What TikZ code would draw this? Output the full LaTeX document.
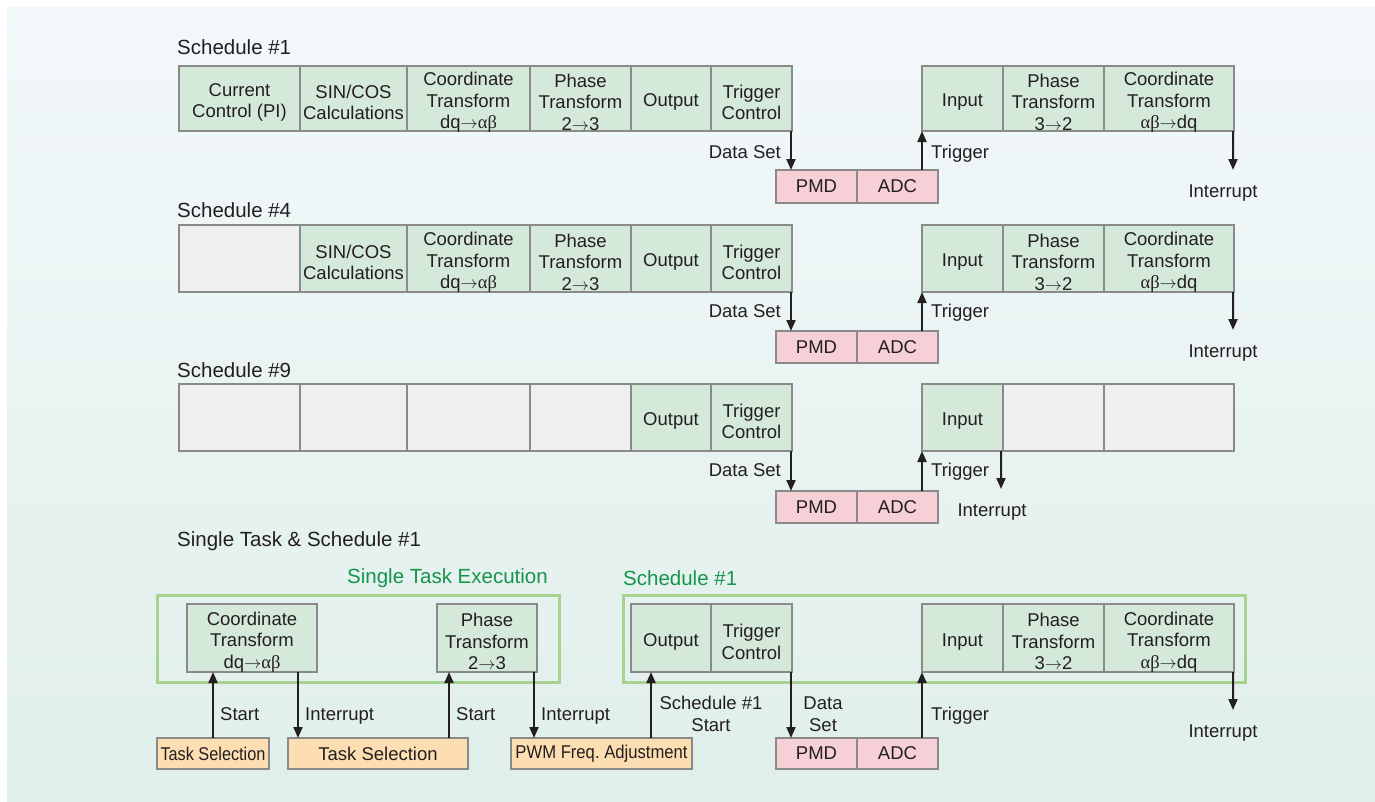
\documentclass[tikz,border=0pt]{standalone}
\usepackage{fontspec}
\usepackage{graphicx}
\usetikzlibrary{arrows.meta}
\setmainfont{Liberation Sans}
\newfontfamily\grk{Liberation Serif}
\newcommand{\bodyf}{\fontsize{18.5bp}{21.5bp}\selectfont}
\newcommand{\headf}{\fontsize{20.5bp}{24bp}\selectfont}
\newcommand{\arw}{$\rightarrow$}
\definecolor{bgtop}{HTML}{F3F8FB}
\definecolor{bgbot}{HTML}{E0EFEA}
\definecolor{gfill}{HTML}{D5E9DA}
\definecolor{efill}{HTML}{EFEFEF}
\definecolor{pfill}{HTML}{F7CFD6}
\definecolor{ofill}{HTML}{FDDDB2}
\definecolor{boxline}{HTML}{8A8A8A}
\definecolor{framec}{HTML}{A6D48E}
\definecolor{gtext}{HTML}{17944A}
\definecolor{txt}{HTML}{231F20}
\tikzset{
  box/.style={draw=boxline, line width=1.1bp, outer sep=0pt, inner sep=1bp,
    align=center, font=\bodyf, text=txt, anchor=north west},
  intext/.style={font=\bodyf, align=center, text=txt, inner sep=0pt, yshift=-3.8bp},
  gbox/.style={box, fill=gfill, label={[intext]center:{#1}}},
  ebox/.style={box, fill=efill},
  pbox/.style={box, fill=pfill},
  obox/.style={box, fill=ofill},
  frameb/.style={draw=framec, line width=3bp, outer sep=0pt, inner sep=0pt, anchor=north west},
  lbl/.style={font=\bodyf, inner sep=1bp, align=center, text=txt},
  lbl1/.style={lbl, text height=13.3bp, text depth=0pt},
  head/.style={font=\headf, inner sep=0pt, anchor=west, text=txt},
  ghead/.style={head, text=gtext},
  arr/.style={line width=2bp, draw=txt, -{Triangle[length=11bp,width=9bp]}},
}
\begin{document}
\begin{tikzpicture}[x=1bp,y=-1bp]
\useasboundingbox (0,0) rectangle (1375,801);
\fill[top color=bgtop, bottom color=bgbot] (7,8) rectangle (1375,801);

% ---------- Schedule #1 ----------
\node[head] (h1) at (177,47) {Schedule \#1};
\node[gbox={Current\\Control (PI)}, minimum width=121bp, minimum height=65bp] (r1a) at (179,66) {};
\node[gbox={SIN/COS\\Calculations}, minimum width=107bp, minimum height=65bp] (r1b) at (300,66) {};
\node[gbox={Coordinate\\Transform\\dq\arw{\grk αβ}}, minimum width=123bp, minimum height=65bp] (r1c) at (407,66) {};
\node[gbox={Phase\\Transform\\2\arw3}, minimum width=101bp, minimum height=65bp] (r1d) at (530,66) {};
\node[gbox={Output}, minimum width=80bp, minimum height=65bp] (r1e) at (631,66) {};
\node[gbox={Trigger\\Control}, minimum width=81bp, minimum height=65bp] (r1f) at (711,66) {};
\node[gbox={Input}, minimum width=81bp, minimum height=65bp] (r1g) at (922,66) {};
\node[gbox={Phase\\Transform\\3\arw2}, minimum width=101bp, minimum height=65bp] (r1h) at (1003,66) {};
\node[gbox={Coordinate\\Transform\\{\grk αβ}\arw dq}, minimum width=130bp, minimum height=65bp] (r1i) at (1104,66) {};
\node[pbox, minimum width=81bp, minimum height=33bp] (r1p) at (776,170) {PMD};
\node[pbox, minimum width=81bp, minimum height=33bp] (r1q) at (857,170) {ADC};
\node[lbl1, anchor=east] (r1ds) at (782,152) {Data Set};
\node[lbl1, anchor=west] (r1tr) at (930,152) {Trigger};
\node[lbl1] (r1int) at (1223,191) {Interrupt};
\coordinate (r1end) at (1233,170);
\draw[arr] ([xshift=-1bp]r1f.south east) -- ([xshift=-1bp]r1f.south east |- r1p.north);
\draw[arr] (r1g.south west |- r1q.north) -- (r1g.south west);
\draw[arr] ([xshift=-1bp]r1i.south east) -- (r1end);

% ---------- Schedule #4 ----------
\node[head] (h4) at (177,210) {Schedule \#4};
\node[ebox, minimum width=121bp, minimum height=67bp] (r2a) at (179,225) {};
\node[gbox={SIN/COS\\Calculations}, minimum width=107bp, minimum height=67bp] (r2b) at (300,225) {};
\node[gbox={Coordinate\\Transform\\dq\arw{\grk αβ}}, minimum width=123bp, minimum height=67bp] (r2c) at (407,225) {};
\node[gbox={Phase\\Transform\\2\arw3}, minimum width=101bp, minimum height=67bp] (r2d) at (530,225) {};
\node[gbox={Output}, minimum width=80bp, minimum height=67bp] (r2e) at (631,225) {};
\node[gbox={Trigger\\Control}, minimum width=81bp, minimum height=67bp] (r2f) at (711,225) {};
\node[gbox={Input}, minimum width=81bp, minimum height=67bp] (r2g) at (922,225) {};
\node[gbox={Phase\\Transform\\3\arw2}, minimum width=101bp, minimum height=67bp] (r2h) at (1003,225) {};
\node[gbox={Coordinate\\Transform\\{\grk αβ}\arw dq}, minimum width=130bp, minimum height=67bp] (r2i) at (1104,225) {};
\node[pbox, minimum width=81bp, minimum height=32bp] (r2p) at (776,331) {PMD};
\node[pbox, minimum width=81bp, minimum height=32bp] (r2q) at (857,331) {ADC};
\node[lbl1, anchor=east] (r2ds) at (782,311) {Data Set};
\node[lbl1, anchor=west] (r2tr) at (930,311) {Trigger};
\node[lbl1] (r2int) at (1223,351) {Interrupt};
\coordinate (r2end) at (1233,330);
\draw[arr] ([xshift=-1bp]r2f.south east) -- ([xshift=-1bp]r2f.south east |- r2p.north);
\draw[arr] (r2g.south west |- r2q.north) -- (r2g.south west);
\draw[arr] ([xshift=-1bp]r2i.south east) -- (r2end);

% ---------- Schedule #9 ----------
\node[head] (h9) at (177,370) {Schedule \#9};
\node[ebox, minimum width=121bp, minimum height=67bp] (r3a) at (179,384) {};
\node[ebox, minimum width=107bp, minimum height=67bp] (r3b) at (300,384) {};
\node[ebox, minimum width=123bp, minimum height=67bp] (r3c) at (407,384) {};
\node[ebox, minimum width=101bp, minimum height=67bp] (r3d) at (530,384) {};
\node[gbox={Output}, minimum width=80bp, minimum height=67bp] (r3e) at (631,384) {};
\node[gbox={Trigger\\Control}, minimum width=81bp, minimum height=67bp] (r3f) at (711,384) {};
\node[gbox={Input}, minimum width=81bp, minimum height=67bp] (r3g) at (922,384) {};
\node[ebox, minimum width=101bp, minimum height=67bp] (r3h) at (1003,384) {};
\node[ebox, minimum width=130bp, minimum height=67bp] (r3i) at (1104,384) {};
\node[pbox, minimum width=81bp, minimum height=32bp] (r3p) at (776,491) {PMD};
\node[pbox, minimum width=81bp, minimum height=32bp] (r3q) at (857,491) {ADC};
\node[lbl1, anchor=east] (r3ds) at (782,470) {Data Set};
\node[lbl1, anchor=west] (r3tr) at (930,470) {Trigger};
\node[lbl1] (r3int) at (992,510) {Interrupt};
\coordinate (r3end) at (1001,489);
\draw[arr] ([xshift=-1bp]r3f.south east) -- ([xshift=-1bp]r3f.south east |- r3p.north);
\draw[arr] (r3g.south west |- r3q.north) -- (r3g.south west);
\draw[arr] ([xshift=-2bp]r3g.south east) -- (r3end);

% ---------- Single task & Schedule #1 ----------
\node[head] (hs) at (177,541) {Single Task \& Schedule \#1};
\node[ghead] (hst) at (347,578) {Single Task Execution};
\node[ghead] (hsc) at (623,578) {Schedule \#1};
\node[frameb, minimum width=402bp, minimum height=87bp] (fst) at (157,595) {};
\node[frameb, minimum width=622bp, minimum height=87bp] (fsc) at (623,595) {};

\node[gbox={Coordinate\\Transform\\dq\arw{\grk αβ}}, minimum width=130bp, minimum height=68bp] (b1) at (187,604) {};
\node[gbox={Phase\\Transform\\2\arw3}, minimum width=100bp, minimum height=68bp] (b2) at (437,604) {};
\node[gbox={Output}, minimum width=80bp, minimum height=68bp] (bo) at (631,604) {};
\node[gbox={Trigger\\Control}, minimum width=81bp, minimum height=68bp] (bt) at (711,604) {};
\node[gbox={Input}, minimum width=81bp, minimum height=68bp] (bi) at (922,604) {};
\node[gbox={Phase\\Transform\\3\arw2}, minimum width=101bp, minimum height=68bp] (bph) at (1003,604) {};
\node[gbox={Coordinate\\Transform\\{\grk αβ}\arw dq}, minimum width=130bp, minimum height=68bp] (bco) at (1104,604) {};

\node[obox, minimum width=112bp, minimum height=31bp] (t1) at (157,738) {\scalebox{0.88}[1]{Task Selection}};
\node[obox, minimum width=180bp, minimum height=31bp] (t2) at (288,738) {Task Selection};
\node[obox, minimum width=181bp, minimum height=31bp] (pwm) at (511,738) {\scalebox{0.9}[1]{PWM Freq.\ Adjustment}};
\node[pbox, minimum width=81bp, minimum height=31bp] (bp) at (776,738) {PMD};
\node[pbox, minimum width=81bp, minimum height=31bp] (bq) at (857,738) {ADC};

\node[lbl1, anchor=west] (ls1) at (219,714) {Start};
\node[lbl1, anchor=west] (li1) at (304,714) {Interrupt};
\node[lbl1, anchor=west] (ls2) at (455,714) {Start};
\node[lbl1, anchor=west] (li2) at (540,714) {Interrupt};
\node[lbl] (lss) at (711,714) {Schedule \#1\\Start};
\node[lbl] (lds) at (823,714) {Data\\Set};
\node[lbl1, anchor=west] (ltr) at (930,714) {Trigger};
\node[lbl1] (lint) at (1223,731) {Interrupt};
\coordinate (bend) at (1233,710);

\draw[arr] (t1.north) -- (t1.north |- b1.south);
\draw[arr] ([xshift=-19bp]b1.south east) -- ([xshift=-19bp]b1.south east |- t2.north);
\draw[arr] ([xshift=-19bp]t2.north east) -- ([xshift=-19bp]t2.north east |- b2.south);
\draw[arr] ([xshift=-3bp]b2.south east) -- ([xshift=-3bp]b2.south east |- pwm.north);
\draw[arr] ([xshift=20bp]bo.south west |- pwm.north) -- ([xshift=20bp]bo.south west);
\draw[arr] ([xshift=-1bp]bt.south east) -- ([xshift=-1bp]bt.south east |- bp.north);
\draw[arr] (bi.south west |- bq.north) -- (bi.south west);
\draw[arr] ([xshift=-1bp]bco.south east) -- (bend);
\end{tikzpicture}
\end{document}
